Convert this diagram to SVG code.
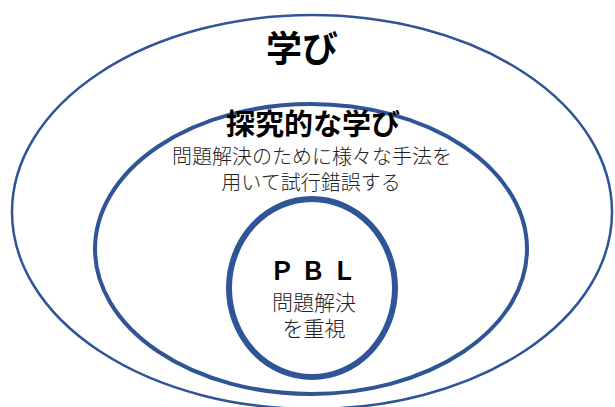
<svg xmlns="http://www.w3.org/2000/svg" width="615" height="407" viewBox="0 0 615 407">
<style>
.ring{fill:none;stroke:#2F5597}
.t{font-family:"Noto Sans CJK JP","Noto Sans CJK SC",sans-serif;fill:#000;text-anchor:middle}
.b{font-weight:bold}
.l{font-weight:300;fill:#222}
</style>
<rect width="615" height="407" fill="#fff"/>
<g id="outer">
<ellipse class="ring" cx="312" cy="212" rx="300" ry="197" stroke-width="2.5"/>
<text class="t b" x="302" y="62" font-size="36">学び</text>
</g>
<g id="middle">
<ellipse class="ring" cx="311" cy="249" rx="216" ry="145" stroke-width="4"/>
<text class="t b" x="313" y="135" font-size="29">探究的な学び</text>
<text class="t l" x="312" y="164" font-size="20">問題解決のために様々な手法を</text>
<text class="t l" x="311" y="190" font-size="20">用いて試行錯誤する</text>
</g>
<g id="inner">
<ellipse class="ring" cx="312" cy="288" rx="83" ry="89" stroke-width="6"/>
<text class="t b" x="316" y="280" font-size="25" letter-spacing="6">ＰＢＬ</text>
<text class="t l" x="314" y="310" font-size="21">問題解決</text>
<text class="t l" x="314" y="336" font-size="21">を重視</text>
</g>
</svg>
